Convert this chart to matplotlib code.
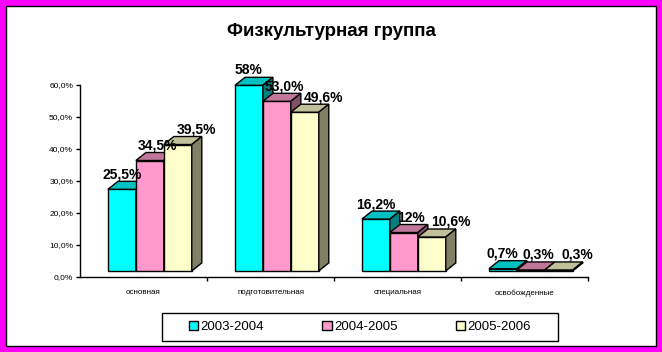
import matplotlib.pyplot as plt
from matplotlib.patches import Polygon, Rectangle
from matplotlib.ticker import FuncFormatter

plt.rcParams['font.family'] = ['Liberation Sans', 'DejaVu Sans']

# Данные
categorias = ['основная', 'подготовительная', 'специальная', 'освобожденные']
series = ['2003-2004', '2004-2005', '2005-2006']
valores = [
    [25.5, 58.0, 16.2, 0.7],
    [34.5, 53.0, 12.0, 0.3],
    [39.5, 49.6, 10.6, 0.3],
]
etiquetas = [
    ['25,5%', '58%', '16,2%', '0,7%'],
    ['34,5%', '53,0%', '12%', '0,3%'],
    ['39,5%', '49,6%', '10,6%', '0,3%'],
]

# Colores: frente, arriba, lado
frente = ['#00FFFF', '#FF99CC', '#FFFFCC']
arriba = ['#00C0C0', '#C0779A', '#C0C09A']
lado = ['#008080', '#805066', '#808066']
desplaz_etiqueta = [-0.04, 0.02, 0.11]

fig = plt.figure(figsize=(6.62, 3.52), dpi=100)
fig.patch.set_facecolor('#FF00FF')
fig.patches.append(Rectangle((6 / 662, 6 / 352), 1 - 12 / 662, 1 - 12 / 352,
                             transform=fig.transFigure, facecolor='white',
                             edgecolor='black', linewidth=1, zorder=-10))

ax = fig.add_axes([80 / 662, 75 / 352, 508 / 662, 192 / 352])
ax.set_xlim(0, 4)
ax.set_ylim(0, 60)
ax.patch.set_alpha(0)

ancho = 0.22
dx = 0.079
dy = 2.5
base = 1.9

for i, cat in enumerate(categorias):
    for s in range(len(series)):
        v = valores[s][i]
        x0 = i + ancho * (s + 1)
        y1 = base + v
        caras = [
            ([(x0, base), (x0 + ancho, base), (x0 + ancho, y1), (x0, y1)], frente[s]),
            ([(x0, y1), (x0 + ancho, y1), (x0 + ancho + dx, y1 + dy), (x0 + dx, y1 + dy)], arriba[s]),
            ([(x0 + ancho, base), (x0 + ancho + dx, base + dy),
              (x0 + ancho + dx, y1 + dy), (x0 + ancho, y1)], lado[s]),
        ]
        for pts, col in caras:
            ax.add_patch(Polygon(pts, closed=True, facecolor=col, edgecolor='black',
                                 lw=1, zorder=3 + s, clip_on=False))
        ax.text(x0 + (ancho + dx) / 2 + desplaz_etiqueta[s], y1 + dy, etiquetas[s][i],
                ha='center', va='bottom', fontsize=10, fontweight='bold', clip_on=False, zorder=10)

for lado_ax in ['top', 'right']:
    ax.spines[lado_ax].set_visible(False)
ax.spines['left'].set_linewidth(1)
ax.spines['bottom'].set_linewidth(1)

ax.set_yticks(range(0, 61, 10))
ax.yaxis.set_major_formatter(FuncFormatter(lambda v, p: f'{v:.1f}%'.replace('.', ',')))
ax.tick_params(axis='y', labelsize=6, length=3, width=1, pad=2)

ax.set_xticks([i + 0.5 for i in range(len(categorias))])
ax.set_xticklabels(categorias, fontsize=5.8)
ax.set_xticks([1, 2, 3, 4], minor=True)
ax.tick_params(axis='x', which='major', length=0, pad=9)
ax.tick_params(axis='x', which='minor', length=3, width=1)

fig.text(331 / 662, 1 - 31 / 352, 'Физкультурная группа', ha='center', va='center',
         fontsize=13.5, fontweight='bold')

# Leyenda
fig.patches.append(Rectangle((162 / 662, 1 - 341 / 352), 396 / 662, 28 / 352,
                             transform=fig.transFigure, facecolor='white',
                             edgecolor='black', linewidth=1, zorder=-5))
manejadores = [Rectangle((0, 0), 1, 1, facecolor=frente[s], edgecolor='black') for s in range(3)]
leg = fig.legend(manejadores, series, loc='center', ncol=3,
                 bbox_to_anchor=(360 / 662, 1 - 327 / 352), fontsize=9.5, frameon=False,
                 handlelength=0.7, handleheight=0.7,
                 handletextpad=0.2, columnspacing=4.4, borderpad=0.3)

fig.savefig('out.png', dpi=100)
